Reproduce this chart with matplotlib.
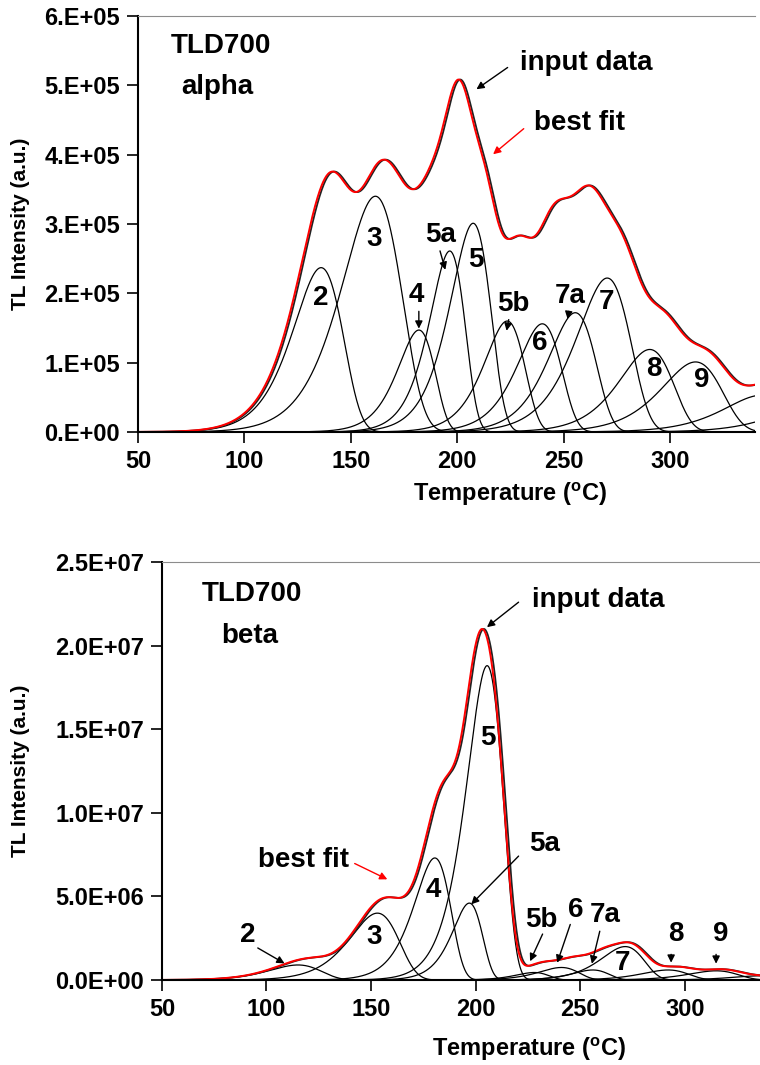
import numpy as np
import matplotlib
matplotlib.use("Agg")
import matplotlib.pyplot as plt
from matplotlib.ticker import FixedLocator, FixedFormatter

plt.rcParams['font.family'] = ['Liberation Sans', 'DejaVu Sans']

# ---- data: peak max temperature (C), peak height, FWHM (C)
alpha_names = ["2", "3", "4", "5a", "5", "5b", "6", "7a", "7", "8", "9", "10", "11"]
alpha_tm    = [136, 161.5, 182, 196.5, 207.5, 223.5, 240, 255.5, 270.5, 290.5, 312, 343, 368]
alpha_im    = [2.37e5, 3.40e5, 1.47e5, 2.61e5, 3.01e5, 1.60e5, 1.56e5, 1.72e5, 2.22e5, 1.19e5, 1.01e5, 0.53e5, 0.40e5]
alpha_fwhm  = [30, 36, 22, 21, 24, 24, 26, 28, 32, 32, 36, 40, 40]

beta_names = ["2", "3", "4", "5a", "5", "5b", "6", "7a", "7", "8", "9", "10"]
beta_tm    = [115, 153, 180.5, 197, 205.5, 228, 241, 256, 271.5, 292, 315, 336]
beta_im    = [0.9e6, 4.0e6, 7.3e6, 4.6e6, 1.88e7, 0.45e6, 0.75e6, 0.6e6, 2.0e6, 0.6e6, 0.55e6, 0.25e6]
beta_fwhm  = [32, 30, 22, 18, 22, 20, 24, 22, 26, 28, 30, 30]

alpha_yticks = [0, 1e5, 2e5, 3e5, 4e5, 5e5, 6e5]
alpha_yticklabels = ["0.E+00", "1.E+05", "2.E+05", "3.E+05", "4.E+05", "5.E+05", "6.E+05"]
beta_yticks = [0, 5e6, 1e7, 1.5e7, 2e7, 2.5e7]
beta_yticklabels = ["0.0E+00", "5.0E+06", "1.0E+07", "1.5E+07", "2.0E+07", "2.5E+07"]
xticks = [50, 100, 150, 200, 250, 300]

input_shift = 0.8   # measured curve sits a touch right of the fit


def glow_peak(t_c, tm_c, im, fwhm):
    """first order glow peak (Kitis approximation), temperatures in C"""
    k = 8.617e-5
    T = t_c + 273.15
    Tm = tm_c + 273.15
    E = 2.52 * k * Tm ** 2 / fwhm
    d = E / (k * T) * (T - Tm) / Tm
    with np.errstate(over="ignore"):
        val = im * np.exp(1 + d - (T / Tm) ** 2 * np.exp(d) * (1 - 2 * k * T / E) - 2 * k * Tm / E)
    return np.nan_to_num(val)


def draw_panel(ax, tm, im, fwhm, xmax, yticks, yticklabels, xlab_pos, ylab_x):
    T = np.linspace(50, xmax, 1200)
    peaks = [glow_peak(T, a, b, c) for a, b, c in zip(tm, im, fwhm)]
    for p in peaks:
        ax.plot(T, p, color="black", lw=0.9)
    fit = np.sum(peaks, axis=0)
    inp = np.sum([glow_peak(T - input_shift, a, b, c) for a, b, c in zip(tm, im, fwhm)], axis=0)
    ax.plot(T, inp, color="#222222", lw=1.3)
    ax.plot(T, fit, color="red", lw=1.4)

    ax.set_xlim(50, xmax)
    ax.set_ylim(0, yticks[-1])
    ax.xaxis.set_major_locator(FixedLocator(xticks))
    ax.yaxis.set_major_locator(FixedLocator(yticks))
    ax.yaxis.set_major_formatter(FixedFormatter(yticklabels))
    ax.spines['right'].set_visible(False)
    ax.spines['top'].set_color("#8c8c8c")
    ax.spines['left'].set_linewidth(1.5)
    ax.spines['bottom'].set_linewidth(1.5)
    ax.tick_params(direction="out", length=8, width=1.2, labelsize=17, pad=5)
    for lab in ax.get_xticklabels() + ax.get_yticklabels():
        lab.set_fontweight("bold")
    ax.set_xlabel("Temperature ($^{\\mathregular{o}}$C)", fontsize=17, fontweight="bold")
    ax.set_ylabel("TL Intensity (a.u.)", fontsize=15, fontweight="bold")
    ax.xaxis.set_label_coords(*xlab_pos)
    ax.yaxis.set_label_coords(ylab_x, 0.5)


def note(ax, txt, xy, xytext=None, color="black", fs=20):
    if xytext is None:
        ax.text(xy[0], xy[1], txt, fontsize=fs, fontweight="bold", ha="center", va="center")
    else:
        ax.annotate("", xy=xy, xytext=xytext,
                    arrowprops=dict(arrowstyle="-|>", color=color, lw=1.0, mutation_scale=11))


fig = plt.figure(figsize=(7.6, 10.65), dpi=100)

# ---- top panel: alpha
ax1 = fig.add_axes([0.1816, 0.5944, 0.8118, 0.3906])
draw_panel(ax1, alpha_tm, alpha_im, alpha_fwhm, 340, alpha_yticks, alpha_yticklabels,
           (0.603, -0.115), -0.175)
note(ax1, "TLD700", (89, 5.57e5))
note(ax1, "alpha", (87.5, 4.98e5))
note(ax1, "input data", (260.5, 5.32e5))
note(ax1, "", (208, 4.92e5), (224.8, 5.28e5))
note(ax1, "best fit", (257.5, 4.46e5))
note(ax1, "", (215.9, 3.98e5), (232.3, 4.40e5), color="red")
for txt, x, y in [("2", 136, 1.93e5), ("3", 161, 2.78e5), ("4", 181, 1.98e5),
                  ("5a", 192, 2.84e5), ("5", 209, 2.48e5), ("5b", 226.4, 1.85e5),
                  ("6", 238.6, 1.29e5), ("7a", 253, 1.96e5), ("7", 270, 1.87e5),
                  ("8", 292.5, 0.91e5), ("9", 315, 0.75e5)]:
    note(ax1, txt, (x, y))
note(ax1, "", (182, 1.45e5), (182, 1.78e5))
note(ax1, "", (194.8, 2.30e5), (191.6, 2.65e5))
note(ax1, "", (223, 1.42e5), (224.5, 1.66e5))
note(ax1, "", (251.7, 1.59e5), (252.7, 1.78e5))

# ---- bottom panel: beta
ax2 = fig.add_axes([0.2130, 0.0798, 0.7870, 0.3925])
draw_panel(ax2, beta_tm, beta_im, beta_fwhm, 336, beta_yticks, beta_yticklabels,
           (0.614, -0.132), -0.221)
note(ax2, "TLD700", (93.3, 2.31e7))
note(ax2, "beta", (92.2, 2.06e7))
note(ax2, "input data", (258.8, 2.27e7))
note(ax2, "", (204.4, 2.10e7), (221.6, 2.27e7))
note(ax2, "best fit", (117.8, 7.17e6))
note(ax2, "", (159, 5.95e6), (141, 7.04e6), color="red")
for txt, x, y in [("2", 91, 2.69e6), ("3", 151.4, 2.59e6), ("4", 179.6, 5.4e6),
                  ("5", 206, 1.45e7), ("5a", 233, 8.16e6), ("5b", 231.6, 3.6e6),
                  ("6", 247.7, 4.17e6), ("7a", 261.8, 3.87e6), ("7", 270.2, 1.0e6),
                  ("8", 296, 2.73e6), ("9", 317, 2.73e6)]:
    note(ax2, txt, (x, y))
note(ax2, "", (109.8, 0.91e6), (94.7, 2.0e6))
note(ax2, "", (197, 4.41e6), (221.5, 7.53e6))
note(ax2, "", (225.5, 0.97e6), (232.6, 2.9e6))
note(ax2, "", (238.6, 0.87e6), (245.7, 3.48e6))
note(ax2, "", (255.3, 0.81e6), (259.7, 3.08e6))
note(ax2, "", (293.5, 0.87e6), (293.5, 1.7e6))
note(ax2, "", (315, 0.81e6), (315, 1.7e6))

fig.savefig("out.png", dpi=100)
